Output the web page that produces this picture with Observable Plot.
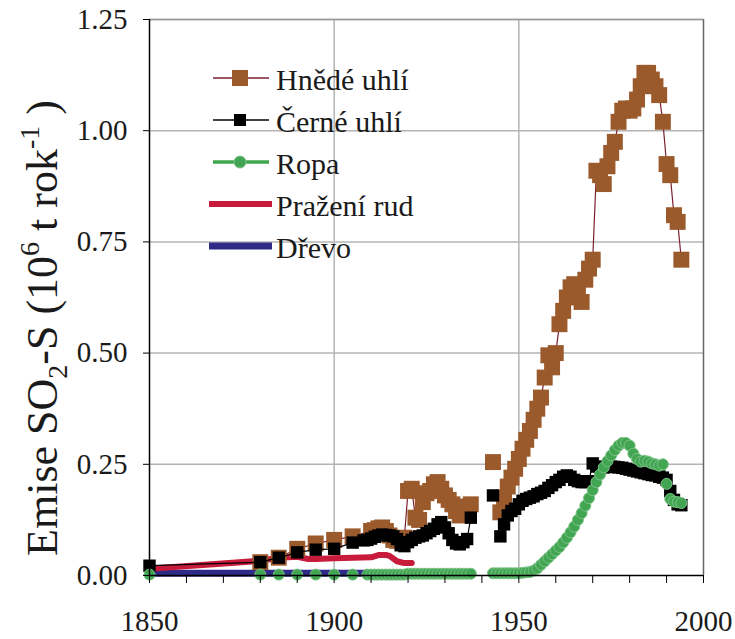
<!DOCTYPE html>
<html><head><meta charset="utf-8">
<script src="https://cdn.jsdelivr.net/npm/d3@7"></script>
<script src="https://cdn.jsdelivr.net/npm/@observablehq/plot@0.6"></script>
<style>
body{margin:0;background:#fff;}
#wrap{position:relative;width:735px;height:639px;}
#legend{position:absolute;left:0;top:0;pointer-events:none;}
</style></head><body><div id="wrap"></div>
<script>
// ---- data (year, emission in 10^6 t/yr); null = gap ----
const hnedeUhli = [
[1880,0.03],[1885,0.04],[1890,0.06],[1895,0.072],[1900,0.08],[1905,0.088],[1910,0.10],[1911,0.102],[1912,0.106],[1913,0.108],[1914,0.10],[1915,0.09],[1916,0.08],[1917,0.078],[1918,0.08],[1919,0.085],
[1920,0.19],[1921,0.195],[1922,0.13],[1923,0.125],[1924,0.165],[1925,0.185],[1926,0.19],[1927,0.205],[1928,0.21],[1929,0.195],[1930,0.18],[1931,0.17],[1932,0.16],[1933,0.145],[1934,0.135],[1935,0.14],[1936,0.155],[1937,0.16],
[1938,null],[1943,0.255],[1944,null],
[1945,0.142],[1946,0.175],[1947,0.2],[1948,0.22],[1949,0.24],[1950,0.262],[1951,0.285],[1952,0.305],[1953,0.325],[1954,0.35],[1955,0.375],[1956,0.40],[1957,0.445],[1958,0.495],[1959,0.468],[1960,0.50],[1961,0.565],[1962,0.595],[1963,0.625],[1964,0.648],[1965,0.655],[1966,0.64],[1967,0.615],[1968,0.665],[1969,0.69],[1970,0.71],
[1971,0.91],[1972,0.90],[1973,0.88],[1974,0.92],[1975,0.95],[1976,0.975],[1977,1.02],[1978,1.045],[1979,1.05],[1980,1.045],[1981,1.05],[1982,1.07],[1983,1.10],[1984,1.13],[1985,1.13],[1986,1.115],[1987,1.10],[1988,1.08],[1989,1.02],[1990,0.925],[1991,0.90],[1992,0.81],[1993,0.795],[1994,0.71]
];
const cerneUhli = [
[1850,0.022],[1880,0.03],[1885,0.04],[1890,0.052],[1895,0.058],[1900,0.06],[1905,0.074],[1908,0.079],[1909,0.08],[1910,0.083],[1911,0.087],[1912,0.09],[1913,0.092],[1914,0.091],[1915,0.09],[1916,0.088],[1917,0.082],[1918,0.068],[1919,0.066],
[1920,0.075],[1921,0.08],[1922,0.085],[1923,0.088],[1924,0.09],[1925,0.095],[1926,0.10],[1927,0.105],[1928,0.115],[1929,0.12],[1930,0.108],[1931,0.095],[1932,0.08],[1933,0.072],[1934,0.07],[1935,0.075],[1936,0.082],[1937,0.13],
[1938,null],[1943,0.18],[1944,null],
[1945,0.088],[1946,0.115],[1947,0.135],[1948,0.145],[1949,0.15],[1950,0.16],[1951,0.168],[1952,0.172],[1953,0.175],[1954,0.178],[1955,0.183],[1956,0.186],[1957,0.19],[1958,0.197],[1959,0.203],[1960,0.21],[1961,0.215],[1962,0.222],[1963,0.225],[1964,0.222],[1965,0.215],[1966,0.212],[1967,0.21],[1968,0.21],[1969,0.212],
[1970,0.252],[1971,0.245],[1972,0.243],[1973,0.243],[1974,0.244],[1975,0.245],[1976,0.244],[1977,0.243],[1978,0.242],[1979,0.24],[1980,0.238],[1981,0.236],[1982,0.234],[1983,0.232],[1984,0.23],[1985,0.228],[1986,0.226],[1987,0.225],[1988,0.222],[1989,0.22],[1990,0.215],[1991,0.19],[1992,0.17],[1993,0.16],[1994,0.158]
];
const ropa = [
[1850,0.002],[1880,0.002],[1885,0.002],[1890,0.002],[1895,0.002],[1900,0.002],[1905,0.002],
[1909,0.002],[1910,0.002],[1911,0.002],[1912,0.002],[1913,0.002],[1914,0.002],[1915,0.002],[1916,0.002],[1917,0.002],[1918,0.002],[1919,0.002],
[1920,0.004],[1921,0.004],[1922,0.004],[1923,0.004],[1924,0.004],[1925,0.004],[1926,0.004],[1927,0.004],[1928,0.004],[1929,0.004],[1930,0.004],[1931,0.004],[1932,0.004],[1933,0.004],[1934,0.004],[1935,0.004],[1936,0.004],[1937,0.004],
[1938,null],
[1943,0.005],[1944,0.005],[1945,0.005],[1946,0.005],[1947,0.005],[1948,0.005],[1949,0.005],[1950,0.005],[1951,0.006],[1952,0.007],[1953,0.008],[1954,0.011],[1955,0.016],[1956,0.024],[1957,0.032],[1958,0.04],[1959,0.048],[1960,0.056],[1961,0.064],[1962,0.074],[1963,0.085],[1964,0.097],[1965,0.11],[1966,0.125],[1967,0.14],[1968,0.157],[1969,0.174],
[1970,0.192],[1971,0.21],[1972,0.227],[1973,0.243],[1974,0.257],[1975,0.27],[1976,0.282],[1977,0.292],[1978,0.298],[1979,0.298],[1980,0.292],[1981,0.274],[1982,0.262],[1983,0.256],[1984,0.258],[1985,0.256],[1986,0.252],[1987,0.25],[1988,0.247],[1989,0.25],[1990,0.206],[1991,0.172],[1992,0.166],[1993,0.165],[1994,0.163]
];
const prazeniRud = [
[1850,0.015],[1880,0.033],[1885,0.04],[1890,0.042],[1893,0.037],[1895,0.037],[1900,0.039],[1905,0.04],[1910,0.041],[1912,0.046],[1914,0.046],[1915,0.044],[1917,0.032],[1919,0.028],[1921,0.028]
];
const drevo = [[1850,0.005],[1880,0.005],[1900,0.005],[1920,0.005]];

const seriesNames = ["Hnědé uhlí","Černé uhlí","Ropa","Pražení rud","Dřevo"];
const xMinorTicks = [1850,1860,1870,1880,1890,1900,1910,1920,1930,1940,1950,1960,1970,1980,1990,2000];
const xLabelTicks = [1850,1900,1950,2000];
const yTicks = [0,0.25,0.5,0.75,1,1.25];
const yGrid = [0.25,0.5,0.75,1,1.25];
const xGrid = [1900,1950];

const FONT = "'Liberation Serif', 'Times New Roman', Tinos, 'DejaVu Serif', serif";
const C = {hnede:"#9b5a2c", hnedeLine:"#7b2030", cerne:"#000", ropa:"#41a552", ropaEdge:"#7cc387", ropaLine:"#3fa64d", prazeni:"#c81b3b", drevo:"#2f2a88"};

const rows = (pairs) => pairs.map(([year, value]) => ({year, value}));
const H = rows(hnedeUhli), K = rows(cerneUhli), R = rows(ropa), P = rows(prazeniRud), D = rows(drevo);
const defined = d => d.value != null;

const chart = Plot.plot({
  width: 735, height: 639,
  marginLeft: 149, marginRight: 32, marginTop: 19, marginBottom: 64,
  x: {domain: [1850, 2000]},
  y: {domain: [0, 1.25]},
  style: {fontFamily: FONT, fontSize: "29px", color: "#1a1a1a", background: "#fff", overflow: "visible"},
  marks: [
    Plot.gridY(yGrid, {stroke: "#b4b4b4", strokeOpacity: 1, strokeWidth: 1.5}),
    Plot.gridX(xGrid, {stroke: "#b4b4b4", strokeOpacity: 1, strokeWidth: 1.5}),
    Plot.ruleX([2000], {stroke: "#666", strokeWidth: 1.5}),
    Plot.ruleY([1.25], {stroke: "#999", strokeWidth: 1.5}),
    Plot.line(R, {x: "year", y: "value", stroke: C.ropaLine, strokeWidth: 3}),
    Plot.line(D, {x: "year", y: "value", stroke: C.drevo, strokeWidth: 7}),
    Plot.line(P, {x: "year", y: "value", stroke: C.prazeni, strokeWidth: 6}),
    Plot.line(H, {x: "year", y: "value", stroke: C.hnedeLine, strokeWidth: 1.2}),
    Plot.dot(H.filter(defined), {x: "year", y: "value", symbol: "square", r: 9, fill: C.hnede}),
    Plot.line(K, {x: "year", y: "value", stroke: C.cerne, strokeWidth: 1.2}),
    Plot.dot(K.filter(defined), {x: "year", y: "value", symbol: "square", r: 7, fill: C.cerne}),
    Plot.dot(R.filter(defined), {x: "year", y: "value", r: 5.5, fill: C.ropa, stroke: C.ropaEdge, strokeWidth: 1}),
    Plot.ruleX([1850], {stroke: "#000", strokeWidth: 1.5}),
    Plot.ruleY([0], {stroke: "#000", strokeWidth: 1.5}),
    Plot.axisY(yTicks, {tickSize: 6, tickPadding: 16, tickFormat: d3.format(".2f"), label: null, stroke: "#000"}),
    Plot.axisX(xMinorTicks, {tickSize: 8, tickFormat: () => "", label: null, stroke: "#000"}),
    Plot.axisX(xLabelTicks, {tickSize: 0, tickPadding: 35, tickFormat: d => String(d), label: null})
  ]
});

// y-axis title with sub/superscripts
const t = d3.select(chart).append("text")
  .attr("transform", "translate(57,328) rotate(-90)")
  .attr("text-anchor", "middle")
  .style("font-family", FONT)
  .attr("font-size", 44)
  .attr("fill", "#1a1a1a");
t.append("tspan").text("Emise SO");
t.append("tspan").attr("font-size", 28).attr("dy", 10).text("2");
t.append("tspan").attr("dy", -10).text("-S (10");
t.append("tspan").attr("font-size", 28).attr("dy", -18).text("6");
t.append("tspan").attr("dy", 18).text(" t rok");
t.append("tspan").attr("font-size", 28).attr("dy", -18).text("-1");
t.append("tspan").attr("dy", 18).text(" )");

document.getElementById("wrap").appendChild(chart);

// legend overlay
const lg = d3.select("#wrap").append("svg").attr("id", "legend").attr("width", 735).attr("height", 639);
const legendStyle = [
  {line: C.hnedeLine, lw: 1.5, marker: "square", mfill: C.hnede, ms: 16},
  {line: C.cerne, lw: 1.5, marker: "square", mfill: C.cerne, ms: 12},
  {line: C.ropaLine, lw: 3.5, marker: "circle", mfill: C.ropa, ms: 12},
  {line: C.prazeni, lw: 6, marker: null},
  {line: C.drevo, lw: 7, marker: null}
];
seriesNames.forEach((name, i) => {
  const y = 78 + i * 42;
  const s = legendStyle[i];
  const g = lg.append("g");
  g.append("line").attr("x1", s.marker ? 213 : 209).attr("x2", s.marker ? 269 : 272).attr("y1", y).attr("y2", y)
    .attr("stroke", s.line).attr("stroke-width", s.lw);
  if (s.marker === "square") g.append("rect").attr("x", 240 - s.ms/2).attr("y", y - s.ms/2).attr("width", s.ms).attr("height", s.ms).attr("fill", s.mfill);
  if (s.marker === "circle") g.append("circle").attr("cx", 240).attr("cy", y).attr("r", s.ms/2).attr("fill", s.mfill).attr("stroke", C.ropaEdge);
  g.append("text").attr("x", 276).attr("y", y).attr("dy", "0.4em")
    .style("font-family", FONT).attr("font-size", 30).attr("fill", "#1a1a1a")
    .text(name);
});
</script></body></html>
